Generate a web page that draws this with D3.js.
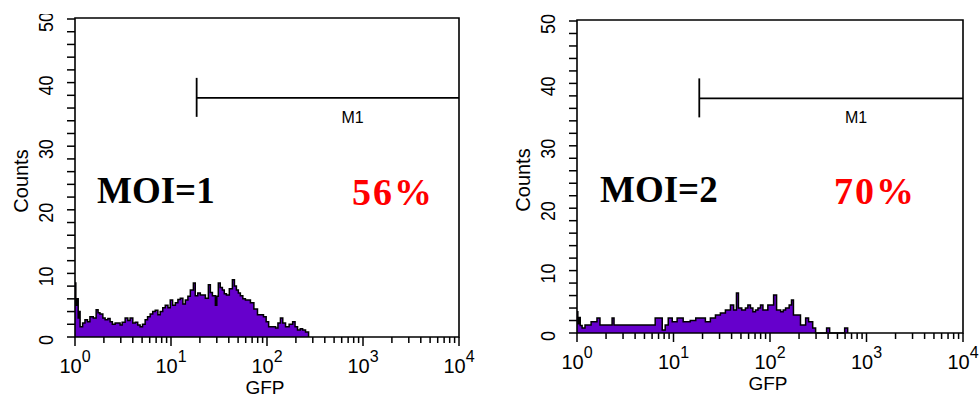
<!DOCTYPE html>
<html>
<head>
<meta charset="utf-8">
<script src="https://cdn.jsdelivr.net/npm/d3@7"></script>
<style>
  body { margin: 0; background: #fff; }
  svg { display: block; }
</style>
</head>
<body>
<div id="chart"></div>
<script>
// GFP histogram, MOI=1
const gfp1 = [1, 1.02, 1.05, 1.08, 1.11, 1.13, 1.2, 1.27, 1.35, 1.43, 1.55, 1.66, 1.74, 1.82, 1.95, 2.06, 2.2, 2.32, 2.45, 2.62,
    2.8, 2.95, 3.1, 3.33, 3.55, 3.75, 4.0, 4.24, 4.5, 4.77, 5.05, 5.38, 5.7, 6.07, 6.45, 6.85, 7.3, 7.72, 8.2, 8.71,
    9.3, 9.82, 10.4, 11.1, 11.8, 12.5, 13.3, 14.1, 15.0, 15.9, 17.1, 17.9, 19.0, 20.2, 21.5, 22.8, 24.5, 25.7, 27.0, 29.0,
    30.0, 31.1, 32.6, 34.3, 35.9, 37.8, 40.5, 43.6, 45.8, 48.0, 50.3, 52.8, 56.0, 59.6, 63.0, 67.2, 73.0, 79.6, 85.5, 91.9,
    98.0, 104, 113, 123, 130, 138, 146, 156, 170, 185, 196, 208, 222, 235, 252, 271];
const counts1 = [8.5, 5, 6, 3, 4, 1.6, 2.2, 2.7, 2.4, 3.2, 3.0, 4.3, 3.8, 3.6, 3.0, 2.7, 2.9, 2.4, 2.0, 2.2,
    2.2, 1.9, 2.3, 3.0, 2.6, 3.0, 2.2, 2.3, 1.9, 1.6, 2.0, 2.7, 3.2, 3.6, 4.0, 4.2, 3.5, 4.0, 4.6, 5.0,
    4.6, 5.8, 5.0, 5.4, 5.9, 6.1, 5.2, 5.8, 6.4, 7.4, 8.5, 6.5, 6.9, 6.6, 6.6, 6.1, 8.2, 7.0, 6.5, 5.0,
    6.4, 8.5, 7.8, 7.4, 6.8, 6.6, 7.6, 9.0, 8.0, 7.4, 6.9, 6.5, 6.0, 5.8, 5.8, 5.4, 4.4, 3.5, 3.5, 3.2,
    2.4, 1.6, 1.6, 1.4, 2.2, 3.0, 2.2, 1.6, 2.0, 2.4, 1.6, 1.1, 1.3, 1.1, 0.8, 0];

// GFP histogram, MOI=2
const gfp2 = [1, 1.02, 1.05, 1.08, 1.13, 1.21, 1.40, 1.61, 1.73, 2.20, 2.31, 2.42, 6.01, 6.46, 7.28, 7.64, 8.20, 8.82, 9.70, 10.9,
    12.6, 14.9, 17.0, 19.0, 21.4, 24.1, 27.2, 30.6, 34.5, 38.9, 42.0, 44.9, 47.1, 51.0, 55.6, 59.0, 62.7, 66.5, 70.7, 75.0,
    79.7, 84.5, 89.8, 95.0, 101, 109, 117, 129, 137, 145, 158, 167, 175, 207, 234, 251, 277, 297, 386, 415,
    594, 638];
const counts2 = [3.4, 1.5, 2.5, 1.2, 0.8, 1.3, 1.8, 2.4, 1.3, 1.3, 2.4, 1.3, 1.3, 2.4, 2.4, 0.5, 1.3, 2.4, 1.8, 2.4,
    1.8, 2.0, 2.4, 2.4, 1.8, 2.4, 2.9, 3.2, 3.7, 4.5, 3.7, 6.4, 4.0, 3.7, 4.0, 4.5, 4.0, 3.4, 3.7, 4.0,
    4.5, 3.7, 3.7, 4.5, 4.5, 6.1, 3.7, 3.4, 3.7, 4.0, 4.5, 5.3, 2.9, 1.3, 2.4, 1.8, 0.8, 0, 0.8, 0,
    0.8, 0];

const gfpSeries = [gfp1, gfp2];
const countSeries = [counts1, counts2];
const moiLabels = ['MOI=1', 'MOI=2'];
const percentLabels = ['56%', '70%'];
const markerLabel = 'M1';
const markerStart = 18.5;   // left end of the M1 gate
const markerCount = 37.6;   // height of the M1 gate line
const countTicks = [0, 10, 20, 30, 40, 50];
const decadeTicks = [1, 10, 100, 1000, 10000];
const decadeLabels = ['0', '1', '2', '3', '4'];

const width = 980, height = 397;
const fillColor = '#6600cc';

// panel frames (pixel boxes)
const layout = [
    { left: 75, right: 459, top: 19, bottom: 337, moiX: 22, pctX: 318 },
    { left: 577, right: 963, top: 21, bottom: 333, moiX: 23, pctX: 298 }
];

const svg = d3.select('#chart')
    .append('svg')
    .attr('width', width)
    .attr('height', height);

// the source image is cropped just above the top count label
svg.append('clipPath')
    .attr('id', 'crop')
    .append('rect')
    .attr('x', 0).attr('y', 14)
    .attr('width', width).attr('height', height);

const tickFont = '"Liberation Sans", Arial, sans-serif';

layout.forEach((p, i) => {
    const g = svg.append('g');

    const x = d3.scaleLog()
        .domain([1, 10000])
        .range([p.left, p.right]);

    const y = d3.scaleLinear()
        .domain([0, 50])
        .range([p.bottom, p.top]);

    const pts = gfpSeries[i].map((v, k) => ({ gfp: v, count: countSeries[i][k] }));

    // histogram fill
    g.append('path')
        .datum(pts)
        .attr('fill', fillColor)
        .attr('d', d3.area()
            .curve(d3.curveStepAfter)
            .x(d => x(d.gfp))
            .y0(y(0))
            .y1(d => y(d.count)));

    // histogram outline
    g.append('path')
        .datum(pts)
        .attr('fill', 'none')
        .attr('stroke', '#000')
        .attr('stroke-width', 1.5)
        .attr('d', d3.line()
            .curve(d3.curveStepAfter)
            .x(d => x(d.gfp))
            .y(d => y(d.count)));

    // frame
    g.append('path')
        .attr('fill', 'none')
        .attr('stroke', '#000')
        .attr('stroke-width', 1.6)
        .attr('d', 'M' + p.left + ',' + p.bottom + 'V' + (p.top - 1) + 'H' + p.right + 'V' + p.bottom + 'Z');

    // x ticks (log decades + minors)
    const xt = x.ticks();
    g.selectAll('.xtick')
        .data(xt)
        .join('line')
        .attr('class', 'xtick')
        .attr('x1', d => x(d))
        .attr('x2', d => x(d))
        .attr('y1', p.bottom)
        .attr('y2', d => p.bottom + (decadeTicks.includes(d) ? 9 : 6))
        .attr('stroke', '#000')
        .attr('stroke-width', 1.5);

    const xl = g.selectAll('.xlabel')
        .data(decadeTicks)
        .join('text')
        .attr('class', 'xlabel')
        .attr('x', d => x(d))
        .attr('y', p.bottom + 36)
        .attr('text-anchor', 'middle')
        .style('font-family', tickFont)
        .style('font-size', '20px');
    xl.append('tspan').text('10');
    xl.append('tspan')
        .attr('dy', -11)
        .style('font-size', '16px')
        .text((d, k) => decadeLabels[k]);

    g.append('text')
        .attr('x', x(100) - 2)
        .attr('y', p.bottom + 57)
        .attr('text-anchor', 'middle')
        .style('font-family', tickFont)
        .style('font-size', '19px')
        .text('GFP');

    // y ticks: every 2 counts
    g.selectAll('.ytick')
        .data(d3.range(0, 51, 2))
        .join('line')
        .attr('class', 'ytick')
        .attr('x1', p.left)
        .attr('x2', p.left - 8)
        .attr('y1', d => y(d))
        .attr('y2', d => y(d))
        .attr('stroke', '#000')
        .attr('stroke-width', 1.5);

    g.append('g')
        .attr('clip-path', 'url(#crop)')
        .selectAll('.ylabel')
        .data(countTicks)
        .join('text')
        .attr('class', 'ylabel')
        .attr('transform', d => 'translate(' + (p.left - 22) + ',' + (y(d) + 3) + ') rotate(-90) scale(0.85,1)')
        .attr('text-anchor', 'middle')
        .style('font-family', tickFont)
        .style('font-size', '21px')
        .text(d => d);

    g.append('text')
        .attr('transform', 'translate(' + (p.left - 47) + ',' + ((p.top + p.bottom) / 2 + 3) + ') rotate(-90)')
        .attr('text-anchor', 'middle')
        .style('font-family', tickFont)
        .style('font-size', '20px')
        .text('Counts');

    // M1 gate
    const gy = y(markerCount);
    g.append('line')
        .attr('x1', x(markerStart)).attr('x2', p.right)
        .attr('y1', gy).attr('y2', gy)
        .attr('stroke', '#000').attr('stroke-width', 1.8);
    g.append('line')
        .attr('x1', x(markerStart)).attr('x2', x(markerStart))
        .attr('y1', gy - 20).attr('y2', gy + 19)
        .attr('stroke', '#000').attr('stroke-width', 1.8);
    g.append('text')
        .attr('x', x(780))
        .attr('y', gy + 25)
        .attr('text-anchor', 'middle')
        .style('font-family', tickFont)
        .style('font-size', '16px')
        .text(markerLabel);

    // annotations
    g.append('text')
        .attr('x', p.left + p.moiX)
        .attr('y', y(21))
        .style('font-family', '"Liberation Serif", "Times New Roman", serif')
        .style('font-weight', 'bold')
        .style('font-size', '37px')
        .text(moiLabels[i]);

    g.append('text')
        .attr('x', p.left + p.pctX)
        .attr('y', y(20.7))
        .attr('text-anchor', 'middle')
        .style('font-family', '"Liberation Serif", "Times New Roman", serif')
        .style('font-weight', 'bold')
        .style('font-size', '38px')
        .style('letter-spacing', '2px')
        .attr('fill', '#ff0000')
        .text(percentLabels[i]);
});
</script>
</body>
</html>
